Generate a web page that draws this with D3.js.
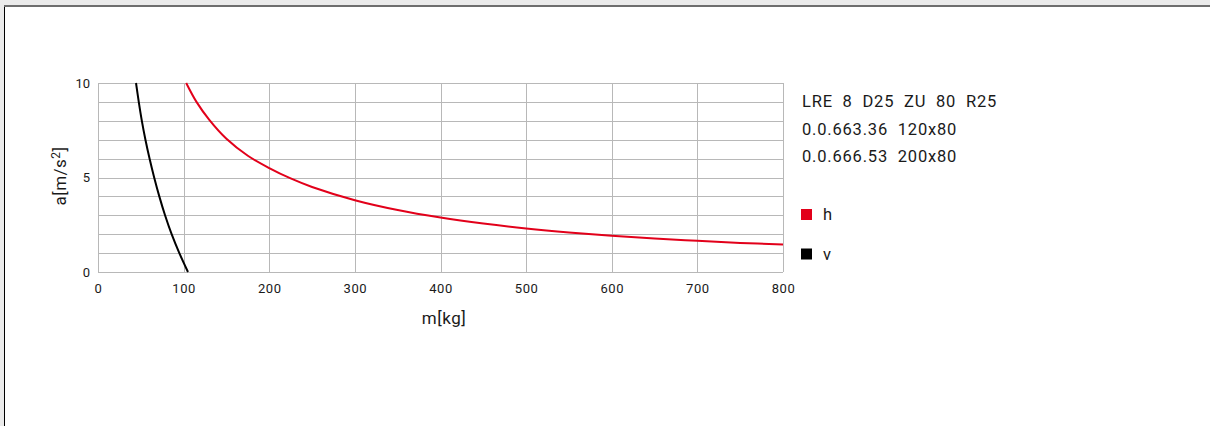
<!DOCTYPE html>
<html><head><meta charset="utf-8">
<script src="https://cdn.jsdelivr.net/npm/d3@7"></script>
<style>
html,body{margin:0;padding:0;background:#ebebeb;}
svg{display:block;}
text{font-family:Roboto,"Liberation Sans",sans-serif;fill:#1a1a1a;}
</style></head>
<body>
<script>
// Data
const xTicks = [0,100,200,300,400,500,600,700,800];
const yTicks = [0,5,10];
const hMass  = [103,115,130,150,175,200,225,250,300,350,400,450,500,550,600,650,700,750,800];
const hAccel = [10,9.0,8.05,7.05,6.15,5.5,4.95,4.5,3.8,3.28,2.88,2.56,2.3,2.09,1.92,1.77,1.65,1.54,1.45];
const vMass  = [44.4,47.6,51.2,55.4,60.2,65.6,71.6,78.3,86.0,95.0,105.1];
const vAccel = [10,9,8,7,6,5,4,3,2,1,0];
const infoLines = ["LRE  8  D25  ZU  80  R25","0.0.663.36  120x80","0.0.666.53  200x80"];
const legendNames = ["h","v"];
const legendColors = ["#e2001a","#000000"];

const W=1210,H=426;
const svg=d3.select("body").append("svg").attr("width",W).attr("height",H);
// frame
svg.append("rect").attr("x",5).attr("y",7).attr("width",W).attr("height",H).attr("fill","#fff");
svg.append("line").attr("x1",4.5).attr("x2",4.5).attr("y1",6).attr("y2",H).attr("stroke","#000").attr("stroke-width",1);
svg.append("line").attr("x1",4).attr("x2",W).attr("y1",6).attr("y2",6).attr("stroke","#6e6e6e").attr("stroke-width",2);

const x=d3.scaleLinear().domain([0,800]).range([98,783]);
const y=d3.scaleLinear().domain([0,10]).range([272,83]);

const g=svg.append("g");
// grid
g.selectAll(".hg").data(d3.range(0,11)).enter().append("line")
 .attr("x1",x(0)).attr("x2",x(800)).attr("y1",d=>Math.round(y(d))+0.5).attr("y2",d=>Math.round(y(d))+0.5)
 .attr("stroke","#b8b8b8").attr("stroke-width",1);
g.selectAll(".vg").data(xTicks).enter().append("line")
 .attr("y1",y(0)).attr("y2",y(10)).attr("x1",d=>Math.round(x(d))+0.5).attr("x2",d=>Math.round(x(d))+0.5)
 .attr("stroke","#b8b8b8").attr("stroke-width",1);

// axes labels
const xa=svg.append("g").attr("transform",`translate(0,${y(0)})`)
 .call(d3.axisBottom(x).tickValues(xTicks).tickSize(0).tickPadding(12));
xa.select(".domain").remove();
xa.selectAll("text").attr("font-size",13).attr("font-family","Roboto").attr("fill","#1a1a1a").attr("letter-spacing",0.6);
const ya=svg.append("g").attr("transform",`translate(${x(0)},0)`)
 .call(d3.axisLeft(y).tickValues(yTicks).tickSize(0).tickPadding(8));
ya.select(".domain").remove();
ya.selectAll("text").attr("font-size",13).attr("font-family","Roboto").attr("fill","#1a1a1a");

// curves
const line=d3.line().x(d=>x(d[0])).y(d=>y(d[1])).curve(d3.curveCatmullRom.alpha(0.5));
svg.append("path").datum(hMass.map((m,i)=>[m,hAccel[i]])).attr("d",line)
 .attr("fill","none").attr("stroke",legendColors[0]).attr("stroke-width",2);
svg.append("path").datum(vMass.map((m,i)=>[m,vAccel[i]])).attr("d",line)
 .attr("fill","none").attr("stroke",legendColors[1]).attr("stroke-width",2);

// axis titles
svg.append("text").attr("x",444).attr("y",324).attr("text-anchor","middle").attr("font-size",17).attr("letter-spacing",0.5).text("m[kg]");
const yt=svg.append("text").attr("transform","translate(66,176) rotate(-90)").attr("text-anchor","middle").attr("font-size",17).attr("letter-spacing",0.5);
yt.append("tspan").text("a[m/s");
yt.append("tspan").attr("dy",-6).attr("font-size",12).text("2");
yt.append("tspan").attr("dy",6).text("]");

// info text
svg.selectAll(".info").data(infoLines).enter().append("text")
 .attr("x",802).attr("y",(d,i)=>107+i*27.7).attr("font-size",16.5).attr("letter-spacing",0.8).attr("xml:space","preserve")
 .style("white-space","pre").text(d=>d);

// legend
const lg=svg.selectAll(".lg").data(legendNames).enter().append("g")
 .attr("transform",(d,i)=>`translate(801,${209+i*39.5})`);
lg.append("rect").attr("width",11).attr("height",11).attr("fill",(d,i)=>legendColors[i]);
lg.append("text").attr("x",22).attr("y",11).attr("font-size",16.5).text(d=>d);
</script>
</body></html>
